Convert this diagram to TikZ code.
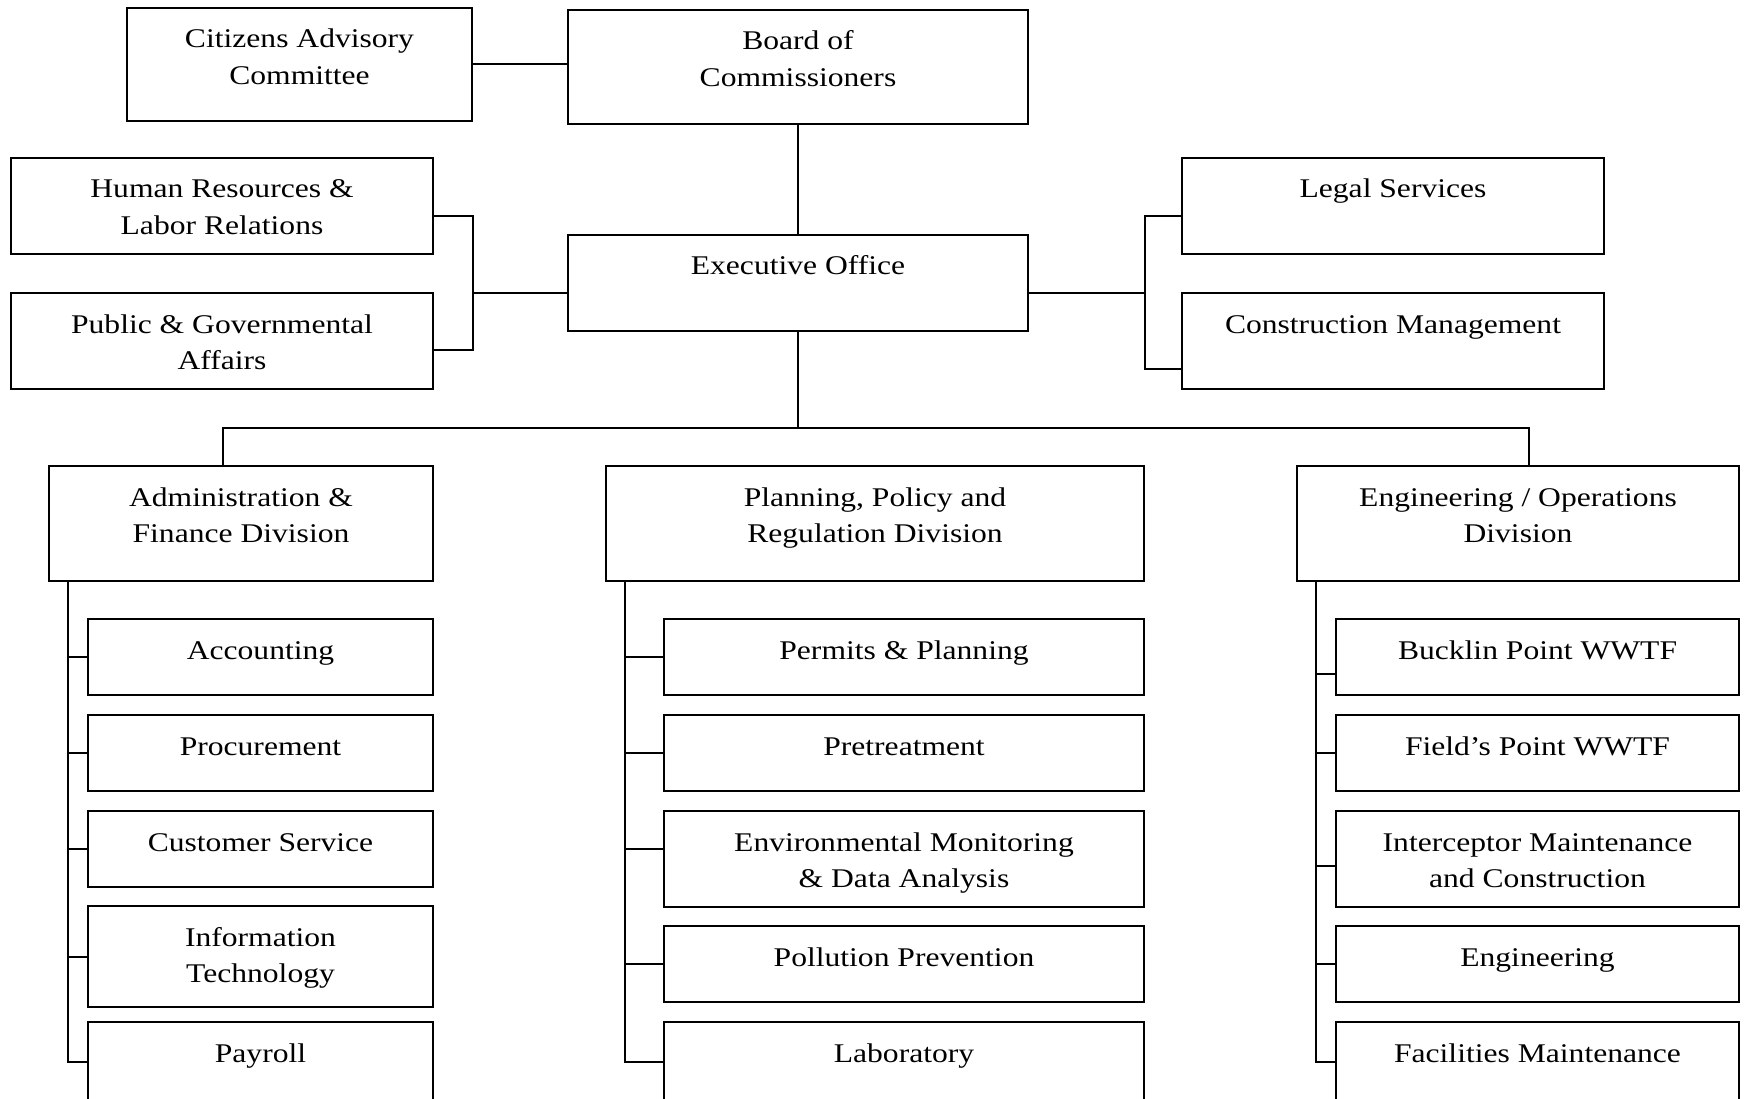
\documentclass[tikz,border=0pt]{standalone}
\usepackage{fontspec}
\setmainfont{Liberation Serif}[FakeStretch=1.17]
\newcommand\bx[3]{\parbox[c][#2pt][t]{#1pt}{\centering\rule{0pt}{40pt}#3\par}}
\tikzset{
  orgbox/.style={
    shape = rectangle,
    draw,
    inner sep = 0pt,
    line width = 2pt,
    font = \fontsize{27}{36.7}\selectfont
  },
  link/.style={
    line width = 2pt
  },
}
\begin{document}
\begin{tikzpicture}[x=1pt,y=-1pt]
        \useasboundingbox (0,0) rectangle (1747,1099);

        \node[orgbox] (cac) at (299.5,64.5) {\bx{345}{113}{Citizens Advisory\\Committee}};
        \node[orgbox] (board) at (798,67) {\bx{460}{114}{Board of\\Commissioners}};
        \node[orgbox] (exec) at (798,283) {\bx{460}{96}{Executive Office}};
        \node[orgbox] (hr) at (222,206) {\bx{422}{96}{Human Resources \&\\Labor Relations}};
        \node[orgbox] (pga) at (222,341) {\bx{422}{96}{Public \& Governmental\\Affairs}};
        \node[orgbox] (legal) at (1393,206) {\bx{422}{96}{Legal Services}};
        \node[orgbox] (cm) at (1393,341) {\bx{422}{96}{Construction Management}};

        \node[orgbox] (adm) at (241,523.5) {\bx{384}{115}{Administration \&\\Finance Division}};
        \node[orgbox] (ppr) at (875,523.5) {\bx{538}{115}{Planning, Policy and\\Regulation Division}};
        \node[orgbox] (eng) at (1518,523.5) {\bx{442}{115}{Engineering / Operations\\Division}};

        \node[orgbox] (acc) at (260.5,657) {\bx{345}{76}{Accounting}};
        \node[orgbox] (proc) at (260.5,753) {\bx{345}{76}{Procurement}};
        \node[orgbox] (cs) at (260.5,849) {\bx{345}{76}{Customer Service}};
        \node[orgbox] (it) at (260.5,956.5) {\bx{345}{101}{Information\\Technology}};
        \node[orgbox] (pay) at (260.5,1061.5) {\bx{345}{79}{Payroll}};

        \node[orgbox] (pp) at (904,657) {\bx{480}{76}{Permits \& Planning}};
        \node[orgbox] (pre) at (904,753) {\bx{480}{76}{Pretreatment}};
        \node[orgbox] (emda) at (904,859) {\bx{480}{96}{Environmental Monitoring\\\& Data Analysis}};
        \node[orgbox] (ppv) at (904,964) {\bx{480}{76}{Pollution Prevention}};
        \node[orgbox] (lab) at (904,1061.5) {\bx{480}{79}{Laboratory}};

        \node[orgbox] (bpw) at (1537.5,657) {\bx{403}{76}{Bucklin Point WWTF}};
        \node[orgbox] (fpw) at (1537.5,753) {\bx{403}{76}{Field’s Point WWTF}};
        \node[orgbox] (imc) at (1537.5,859) {\bx{403}{96}{Interceptor Maintenance\\and Construction}};
        \node[orgbox] (engr) at (1537.5,964) {\bx{403}{76}{Engineering}};
        \node[orgbox] (fm) at (1537.5,1061.5) {\bx{403}{79}{Facilities Maintenance}};

        % top of the chart
        \draw[link] (cac.east) -- (cac.east -| board.west);
        \draw[link] (board) -- (exec);

        \coordinate (el) at ([yshift=-10pt]exec.west);
        \draw[link] ([yshift=-10pt]hr.east) -- ++(39,0) coordinate (lb) |- ([yshift=-9pt]pga.east);
        \draw[link] (el) -- (el -| lb);

        \draw[link] ([yshift=-10pt]exec.east) -- ++(116,0) coordinate (rb);
        \draw[link] ([yshift=-10pt]legal.west) -| (rb) |- ([yshift=-28pt]cm.west);

        \draw[link] (exec.south) -- ++(0,96) coordinate (bus);
        \draw[link] ([xshift=-18pt]adm.north) |- (bus) -| ([xshift=11pt]eng.north);

        % divisions
        \draw[link] ([xshift=20pt]adm.south west) coordinate (as) |- (pay.west);
        \draw[link] (as |- acc.west) -- (acc.west);
        \draw[link] (as |- proc.west) -- (proc.west);
        \draw[link] (as |- cs.west) -- (cs.west);
        \draw[link] (as |- it.west) -- (it.west);

        \coordinate (emt) at ([yshift=10pt]emda.west);
        \draw[link] ([xshift=20pt]ppr.south west) coordinate (ps) |- (lab.west);
        \draw[link] (ps |- pp.west) -- (pp.west);
        \draw[link] (ps |- pre.west) -- (pre.west);
        \draw[link] (ps |- emt) -- (emt);
        \draw[link] (ps |- ppv.west) -- (ppv.west);

        \coordinate (bpt) at ([yshift=-17pt]bpw.west);
        \coordinate (imt) at ([yshift=-7pt]imc.west);
        \draw[link] ([xshift=20pt]eng.south west) coordinate (es) |- (fm.west);
        \draw[link] (es |- bpt) -- (bpt);
        \draw[link] (es |- fpw.west) -- (fpw.west);
        \draw[link] (es |- imt) -- (imt);
        \draw[link] (es |- engr.west) -- (engr.west);
\end{tikzpicture}
\end{document}
